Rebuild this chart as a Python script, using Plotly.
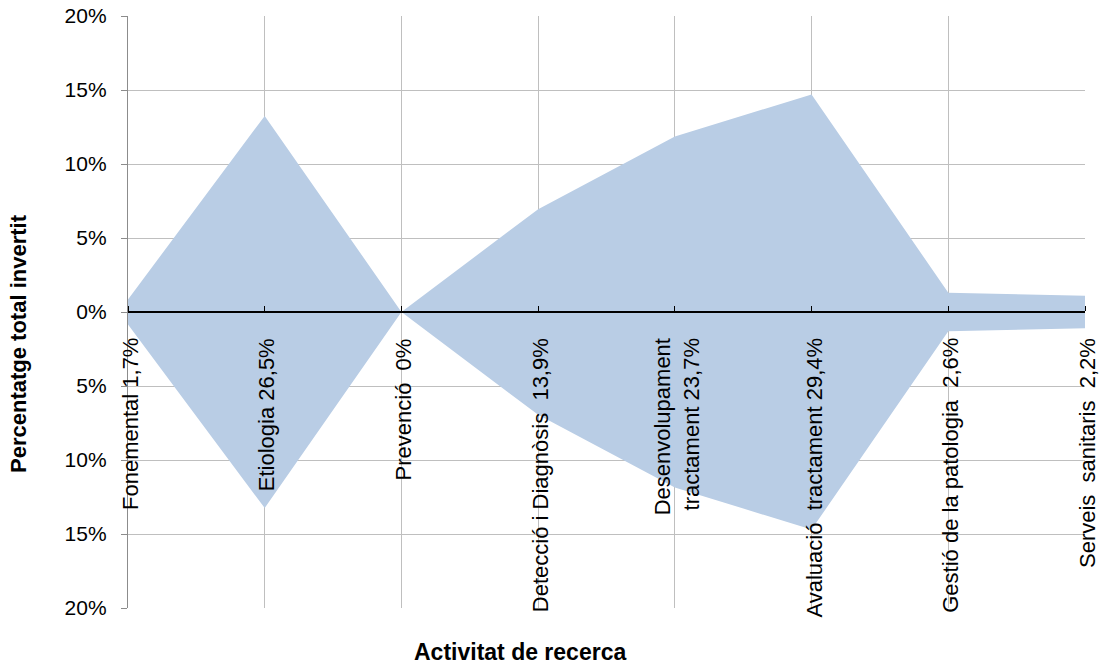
import plotly.graph_objects as go

categories = ["Fonemental 1,7%", "Etiologia 26,5%", "Prevenció  0%",
              "Detecció i Diagnòsis  13,9%", "Desenvolupament<br>tractament 23,7%",
              "Avaluació  tractament 29,4%", "Gestió de la patologia  2,6%",
              "Serveis  sanitaris  2,2%"]
upper = [0.85, 13.25, 0.0, 6.95, 11.85, 14.7, 1.3, 1.1]
lower = [-0.85, -13.25, 0.0, -6.95, -11.85, -14.7, -1.3, -1.1]
ytickvals = [-20, -15, -10, -5, 0, 5, 10, 15, 20]
yticktext = ["20%", "15%", "10%", "5%", "0%", "5%", "10%", "15%", "20%"]

FONT = "Liberation Sans, Arial, sans-serif"
FILL = "#B9CDE5"
GRID = "#BFBFBF"

xs = list(range(len(categories)))

fig = go.Figure()
fig.add_trace(go.Scatter(x=xs, y=upper, fill="tozeroy", mode="none",
                         fillcolor=FILL, hoverinfo="skip", showlegend=False))
fig.add_trace(go.Scatter(x=xs, y=lower, fill="tozeroy", mode="none",
                         fillcolor=FILL, hoverinfo="skip", showlegend=False))

for i, lab in enumerate(categories):
    fig.add_annotation(x=xs[i], y=0, xref="x", yref="y", text=lab,
                       textangle=-90, showarrow=False, xanchor="center",
                       yanchor="top", yshift=-24, xshift=2, align="right",
                       font=dict(family=FONT, size=22, color="#000000"))

fig.add_annotation(text="<b>Percentatge total invertit</b>", xref="paper", yref="paper",
                   x=-0.115, y=0.4476, textangle=-90, showarrow=False,
                   xanchor="center", yanchor="middle",
                   font=dict(family=FONT, size=22, color="#000000"))
fig.add_annotation(text="<b>Activitat de recerca</b>", xref="paper", yref="paper",
                   x=0.4096, y=-0.0743, showarrow=False,
                   xanchor="center", yanchor="middle",
                   font=dict(family=FONT, size=23, color="#000000"))

fig.update_layout(
    width=1105, height=664,
    margin=dict(l=128, r=20, t=16, b=56),
    paper_bgcolor="white", plot_bgcolor="white",
    font=dict(family=FONT, size=21, color="#000000"),
    xaxis=dict(range=[0, 7], tickvals=xs, showticklabels=False,
               showgrid=True, gridcolor=GRID, gridwidth=1.3,
               anchor="free", position=0.5, side="top",
               showline=True, linecolor="#000000", linewidth=1.5,
               ticks="outside", ticklen=5, tickcolor="#000000",
               zeroline=False, fixedrange=True, automargin=False),
    yaxis=dict(range=[-20, 20], tickvals=ytickvals, ticktext=yticktext,
               showgrid=True, gridcolor=GRID, gridwidth=1.3,
               showline=True, linecolor="#8C8C8C", linewidth=1.3,
               ticks="outside", ticklen=6, tickcolor="#8C8C8C",
               zeroline=False, ticklabelstandoff=10, automargin=False,
               tickfont=dict(family=FONT, size=21, color="#000000")),
)

fig.write_html("out.html")
